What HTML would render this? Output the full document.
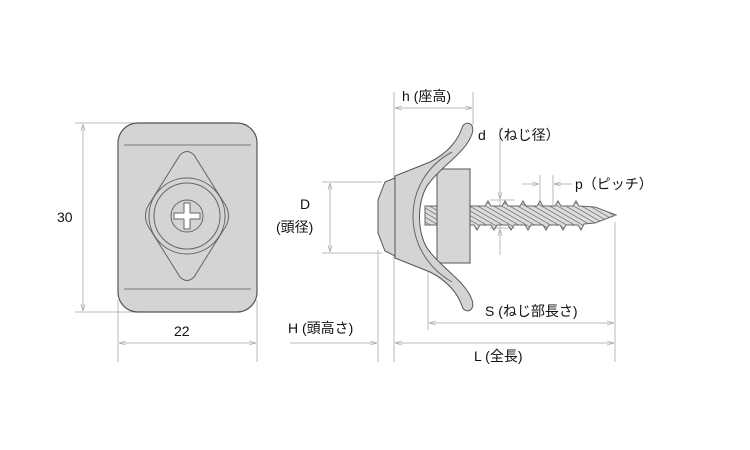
<!DOCTYPE html>
<html><head><meta charset="utf-8"><style>
body{margin:0;background:#fff}
svg{display:block}
text{font-family:"Liberation Sans","Noto Sans CJK JP",sans-serif;font-size:14px;fill:#111}
</style></head><body>
<svg width="750" height="450" viewBox="0 0 750 450">
<defs>
<pattern id="th" width="4" height="4" patternUnits="userSpaceOnUse" patternTransform="rotate(-60)">
<rect width="4" height="4" fill="#ddd"/><line x1="0" y1="0" x2="0" y2="4" stroke="#666" stroke-width="1.4"/>
</pattern>
<marker id="a" viewBox="0 0 10 10" refX="10" refY="5" markerWidth="7" markerHeight="7" orient="auto-start-reverse"><path d="M0,2 L10,5 L0,8" fill="none" stroke="#aaa" stroke-width="1"/></marker>
</defs>
<g stroke="#bbb" stroke-width="1" fill="none">
<line x1="75" y1="123" x2="160" y2="123"/><line x1="75" y1="312" x2="160" y2="312"/>
<line x1="83" y1="124" x2="83" y2="311" marker-start="url(#a)" marker-end="url(#a)"/>
<line x1="118" y1="300" x2="118" y2="362"/><line x1="257" y1="300" x2="257" y2="362"/>
<line x1="119" y1="343" x2="256" y2="343" marker-start="url(#a)" marker-end="url(#a)"/>
<line x1="394" y1="92" x2="394" y2="362"/><line x1="473" y1="92" x2="473" y2="125"/>
<line x1="395" y1="108" x2="472" y2="108" marker-start="url(#a)" marker-end="url(#a)"/>
<line x1="322" y1="182" x2="382" y2="182"/><line x1="322" y1="253" x2="382" y2="253"/>
<line x1="330" y1="183" x2="330" y2="252" marker-start="url(#a)" marker-end="url(#a)"/>
<line x1="378" y1="250" x2="378" y2="362"/>
<line x1="290" y1="343" x2="377" y2="343" marker-end="url(#a)"/>
<line x1="395" y1="343" x2="614" y2="343" marker-start="url(#a)" marker-end="url(#a)"/>
<line x1="615" y1="222" x2="615" y2="362"/>
<line x1="428" y1="270" x2="428" y2="330"/>
<line x1="429" y1="323" x2="614" y2="323" marker-start="url(#a)" marker-end="url(#a)"/>
<line x1="500" y1="128" x2="500" y2="255"/>
<line x1="490" y1="200" x2="515" y2="200"/><line x1="490" y1="228" x2="515" y2="228"/>
<line x1="500" y1="185" x2="500" y2="199" marker-end="url(#a)"/>
<line x1="500" y1="243" x2="500" y2="229" marker-end="url(#a)"/>
<line x1="540" y1="175" x2="540" y2="205"/><line x1="553" y1="175" x2="553" y2="205"/>
<line x1="522" y1="184" x2="539" y2="184" marker-end="url(#a)"/>
<line x1="572" y1="184" x2="554" y2="184" marker-end="url(#a)"/>
</g>
<rect x="118" y="123" width="139" height="189" rx="20" fill="#d4d4d4" stroke="#555" stroke-width="1.2"/>
<line x1="124" y1="145" x2="251" y2="145" stroke="#777"/><line x1="124" y1="289" x2="251" y2="289" stroke="#777"/>
<path d="M180,155 Q187,148 194,155 L226,206 Q231,216 226,226 L194,277 Q187,284 180,277 L148,226 Q143,216 148,206 Z" fill="#d4d4d4" stroke="#666"/>
<circle cx="187" cy="216" r="38" fill="#d4d4d4" stroke="#666"/>
<circle cx="187" cy="216" r="33" fill="#d4d4d4" stroke="#666"/>
<circle cx="187" cy="216" r="16" fill="#d4d4d4" stroke="#666"/>
<path d="M184,203 h6 v10 h10 v6 h-10 v10 h-6 v-10 h-10 v-6 h10 Z" fill="#fff" stroke="#666" stroke-linejoin="round"/>
<!-- screw -->
<path d="M425,206 L470,206 L485,206 L488,201 L491,206 L502,206 L505,201 L508,206 L520,206 L523,201 L526,206 L537,206 L540,201 L543,206 L555,206 L558,201 L561,206 L573,206 L576,201 L579,206 L595,207 L616,215 L595,223 L584,224 L581,230 L578,225 L566,225 L563,230 L560,225 L549,225 L546,230 L543,225 L531,225 L528,230 L525,225 L514,225 L511,230 L508,225 L497,225 L494,230 L491,225 L480,225 L477,230 L474,225 L425,225 Z" fill="url(#th)" stroke="#666"/>
<rect x="437" y="169" width="33" height="94" fill="#d6d6d6" stroke="#555"/>
<path d="M395,178 L385,182 L378,200 L378,233 L385,251 L395,256 Z" fill="#d4d4d4" stroke="#555"/>
<path d="M395,176 L430,162 C448,153 458,140 462,128 C464,120 476,122 472,134 C466,152 442,166 430,182 C416,198 416,236 430,252 C442,268 466,282 472,300 C476,312 464,314 462,306 C458,294 448,281 430,272 L395,258 Z" fill="#d4d4d4" stroke="#555"/>
<path d="M452,152 C400,180 400,252 452,282" fill="none" stroke="#666"/>
<text x="57" y="222">30</text>
<text x="174" y="336">22</text>
<text x="402" y="101">h (座高)</text>
<text x="478" y="140">d （ねじ径）</text>
<text x="575" y="189">p（ピッチ）</text>
<text x="300" y="209">D</text>
<text x="276" y="232">(頭径)</text>
<text x="288" y="333">H (頭高さ)</text>
<text x="485" y="316">S (ねじ部長さ)</text>
<text x="474" y="361">L (全長)</text>
</svg>
</body></html>
